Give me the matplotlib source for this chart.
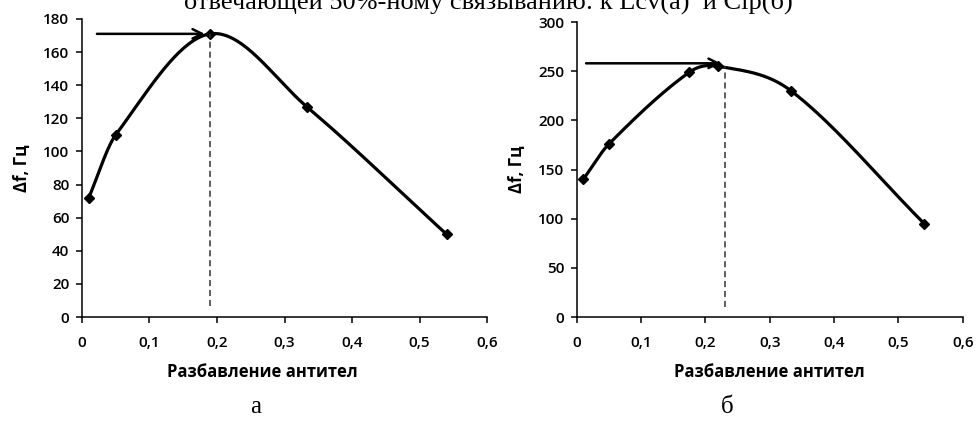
import numpy as np
import matplotlib
matplotlib.use("Agg")
import matplotlib.pyplot as plt

# Data
x_a = [0.01, 0.05, 0.19, 0.333, 0.54]
y_a = [72, 110, 171, 127, 50]
x_b = [0.01, 0.05, 0.175, 0.22, 0.333, 0.54]
y_b = [140, 176, 249, 255, 230, 95]

xticks = [0, 0.1, 0.2, 0.3, 0.4, 0.5, 0.6]
xtick_labels = ["0", "0,1", "0,2", "0,3", "0,4", "0,5", "0,6"]
yticks_a = [0, 20, 40, 60, 80, 100, 120, 140, 160, 180]
yticks_b = [0, 50, 100, 150, 200, 250, 300]

# arrow / dashed marker for 50% binding
arrow_a = (0.018, 0.186, 171)
arrow_b = (0.01, 0.228, 258)
dash_a = (0.19, 6.5, 171)
dash_b = (0.23, 10, 255)

xlabel = "Разбавление антител"
ylabel = "Δf, Гц"
title = "отвечающей 50%-ному связыванию: к Lcv(а)  и Clp(б)"


def smooth(xs, ys, n=40):
    # cubic Hermite through the points (like the smoothed line in Excel)
    xs = np.array(xs, float)
    ys = np.array(ys, float)
    m = np.zeros(len(xs))
    m[0] = (ys[1] - ys[0]) / (xs[1] - xs[0])
    m[-1] = (ys[-1] - ys[-2]) / (xs[-1] - xs[-2])
    for i in range(1, len(xs) - 1):
        m[i] = (ys[i + 1] - ys[i - 1]) / (xs[i + 1] - xs[i - 1])
    outx, outy = [], []
    for i in range(len(xs) - 1):
        h = xs[i + 1] - xs[i]
        t = np.linspace(0, 1, n)
        h00 = 2 * t ** 3 - 3 * t ** 2 + 1
        h10 = t ** 3 - 2 * t ** 2 + t
        h01 = -2 * t ** 3 + 3 * t ** 2
        h11 = t ** 3 - t ** 2
        outx.extend(xs[i] + t * h)
        outy.extend(h00 * ys[i] + h10 * h * m[i] + h01 * ys[i + 1] + h11 * h * m[i + 1])
    return outx, outy


tick_font = {"family": "Open Sans", "weight": "semibold", "size": 11}

fig = plt.figure(figsize=(9.76, 4.21), dpi=100)
ax1 = fig.add_axes([0.084, 0.247, 0.415, 0.708])
ax2 = fig.add_axes([0.591, 0.247, 0.3955, 0.7007])

panels = [
    (ax1, x_a, y_a, yticks_a, 180, arrow_a, dash_a),
    (ax2, x_b, y_b, yticks_b, 300, arrow_b, dash_b),
]

for ax, xs, ys, yt, ymax, arr, dsh in panels:
    sx, sy = smooth(xs, ys)
    ax.plot(sx, sy, color="black", lw=2.3, solid_capstyle="round")
    ax.plot(xs, ys, ls="none", marker="D", ms=5.5, color="black")
    ax.plot([dsh[0], dsh[0]], [dsh[1], dsh[2]], color="#333333", lw=1.1, ls=(0, (4, 2.5)))
    ax.annotate("", xy=(arr[1], arr[2]), xytext=(arr[0], arr[2]),
                arrowprops=dict(arrowstyle="->", color="black", lw=1.8, mutation_scale=17))

    ax.set_xlim(0, 0.6)
    ax.set_ylim(0, ymax)
    ax.set_xticks(xticks)
    ax.set_xticklabels(xtick_labels, fontdict=tick_font)
    ax.set_yticks(yt)
    ax.set_yticklabels([str(v) for v in yt], fontdict=tick_font)
    ax.spines["top"].set_visible(False)
    ax.spines["right"].set_visible(False)
    ax.spines["left"].set_linewidth(1.1)
    ax.spines["bottom"].set_linewidth(1.1)
    ax.tick_params(axis="x", direction="out", length=4, width=1.1, pad=10)
    ax.tick_params(axis="y", direction="out", length=4, width=1.1, pad=5)
    ax.set_xlabel(xlabel, fontfamily="Open Sans", fontweight="bold", fontsize=12, labelpad=9)
    ax.set_ylabel(ylabel, fontfamily="Open Sans", fontweight="bold", fontsize=12, labelpad=9)

# the left x label sits a bit left of the axis centre in the original
ax1.xaxis.set_label_coords(0.445, -0.155)
ax2.xaxis.set_label_coords(0.5, -0.155)

fig.text(0.262, 1 - 413 / 421, "а", family="Liberation Serif", fontsize=18, ha="center", va="baseline")
fig.text(0.745, 1 - 413 / 421, "б", family="Liberation Serif", fontsize=18, ha="center", va="baseline")
fig.text(0.5, 1 - 9 / 421, title, family="Liberation Serif", fontsize=19, ha="center", va="baseline")

fig.savefig("out.png", dpi=100)
